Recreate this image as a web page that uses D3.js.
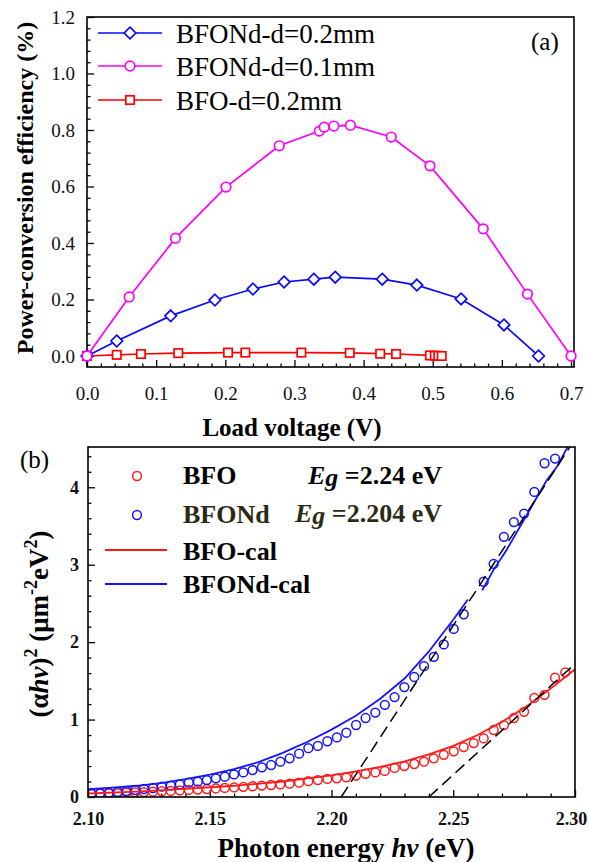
<!DOCTYPE html>
<html><head><meta charset="utf-8">
<script src="https://cdn.jsdelivr.net/npm/d3@7"></script>
<style>
body{margin:0;background:#fff}
svg{display:block;font-family:"Liberation Serif","Times New Roman",serif}
svg text{font-family:"Liberation Serif","Times New Roman",serif}
</style>
</head><body>
<svg id="c" width="589" height="862"></svg>
<script>
// ---------- Panel (a): power-conversion efficiency vs load voltage ----------
const seriesNamesA = ["BFONd-d=0.2mm", "BFONd-d=0.1mm", "BFO-d=0.2mm"];
const seriesColorsA = ["#0a0aff", "#ff00ff", "#ff0000"];
const voltBFONd02 = [0, 0.043, 0.121, 0.185, 0.240, 0.285, 0.328, 0.359, 0.427, 0.477, 0.541, 0.603, 0.653];
const effBFONd02  = [0, 0.053, 0.142, 0.198, 0.237, 0.262, 0.272, 0.279, 0.272, 0.251, 0.202, 0.110, 0.0];
const voltBFONd01 = [0, 0.061, 0.128, 0.201, 0.278, 0.336, 0.343, 0.357, 0.381, 0.440, 0.496, 0.573, 0.637, 0.700];
const effBFONd01  = [0, 0.209, 0.417, 0.598, 0.744, 0.796, 0.810, 0.814, 0.817, 0.775, 0.673, 0.450, 0.219, 0.0];
const voltBFO02   = [0, 0.043, 0.078, 0.132, 0.204, 0.229, 0.310, 0.380, 0.424, 0.447, 0.496, 0.503, 0.508, 0.513];
const effBFO02    = [0, 0.004, 0.007, 0.010, 0.012, 0.012, 0.012, 0.011, 0.008, 0.007, 0.002, 0.001, 0.0005, 0.0];
const xTicksA = [0, 0.1, 0.2, 0.3, 0.4, 0.5, 0.6, 0.7];
const xTickLabelsA = ["0.0", "0.1", "0.2", "0.3", "0.4", "0.5", "0.6", "0.7"];
const yTicksA = [0, 0.2, 0.4, 0.6, 0.8, 1.0, 1.2];
const yTickLabelsA = ["0.0", "0.2", "0.4", "0.6", "0.8", "1.0", "1.2"];

// ---------- Panel (b): Tauc plot ----------
const energy = [2.1014, 2.1050, 2.1086, 2.1122, 2.1158, 2.1194, 2.1230, 2.1267, 2.1303, 2.1340,
  2.1377, 2.1414, 2.1451, 2.1488, 2.1525, 2.1562, 2.1600, 2.1638, 2.1676, 2.1714,
  2.1752, 2.1790, 2.1828, 2.1867, 2.1905, 2.1944, 2.1983, 2.2022, 2.2061, 2.2101,
  2.2140, 2.2180, 2.2219, 2.2259, 2.2299, 2.2340, 2.2380, 2.2420, 2.2461, 2.2502,
  2.2543, 2.2584, 2.2625, 2.2666, 2.2708, 2.2749, 2.2791, 2.2833, 2.2875, 2.2918, 2.2960];
const bfoMeas = [0.038, 0.043, 0.047, 0.051, 0.055, 0.059, 0.064, 0.069, 0.074, 0.079,
  0.085, 0.091, 0.097, 0.103, 0.110, 0.117, 0.124, 0.131, 0.139, 0.147,
  0.155, 0.163, 0.172, 0.185, 0.205, 0.219, 0.234, 0.241, 0.254, 0.277,
  0.300, 0.318, 0.337, 0.376, 0.400, 0.426, 0.456, 0.500, 0.545, 0.590,
  0.645, 0.697, 0.757, 0.865, 0.929, 1.020, 1.100, 1.280, 1.320, 1.540, 1.610];
const bfondMeas = [0.047, 0.050, 0.056, 0.065, 0.077, 0.090, 0.103, 0.116, 0.133, 0.146,
  0.163, 0.185, 0.198, 0.219, 0.241, 0.262, 0.292, 0.318, 0.348, 0.383,
  0.413, 0.456, 0.499, 0.560, 0.630, 0.660, 0.720, 0.770, 0.830, 0.930,
  1.020, 1.090, 1.190, 1.290, 1.420, 1.550, 1.690, 1.810, 1.970, 2.170,
  2.360, null, 2.780, 3.010, 3.360, 3.550, 3.660, 3.940, 4.310, 4.370, null];
const bfoCalE = [2.100, 2.120, 2.140, 2.160, 2.180, 2.190, 2.200, 2.210, 2.220, 2.230, 2.240, 2.250, 2.260, 2.270, 2.280, 2.290, 2.300];
const bfoCalV = [0.045, 0.070, 0.105, 0.145, 0.200, 0.240, 0.280, 0.330, 0.390, 0.460, 0.550, 0.660, 0.800, 0.970, 1.170, 1.400, 1.650];
const bfondCal1E = [2.100, 2.110, 2.120, 2.130, 2.140, 2.150, 2.160, 2.170, 2.180, 2.185, 2.190, 2.200, 2.210, 2.220, 2.230, 2.240, 2.250, 2.256];
const bfondCal1V = [0.100, 0.120, 0.145, 0.180, 0.230, 0.290, 0.360, 0.450, 0.570, 0.640, 0.710, 0.870, 1.050, 1.270, 1.530, 1.880, 2.290, 2.550];
const bfondCal2E = [2.2619, 2.2665, 2.2719, 2.2774, 2.2829, 2.2884, 2.2925, 2.2973, 2.2990];
const bfondCal2V = [2.670, 2.930, 3.190, 3.490, 3.790, 4.090, 4.260, 4.540, 4.640];
const tangentBFO = [[2.240, 0], [2.300, 1.72]];
const tangentBFONd = [[2.204, 0], [2.300, 4.62]];
const xTicksB = [2.10, 2.15, 2.20, 2.25, 2.30];
const xTickLabelsB = ["2.10", "2.15", "2.20", "2.25", "2.30"];
const yTicksB = [0, 1, 2, 3, 4];
const yTickLabelsB = ["0", "1", "2", "3", "4"];

const FONT = "'Liberation Serif','Times New Roman',serif";
const svg = d3.select("#c");

// ===== Panel (a) =====
const xA = d3.scaleLinear().domain([0, 0.7043]).range([87, 574]);
const yA = d3.scaleLinear().domain([-0.039, 1.2]).range([367, 17]);

const gA = svg.append("g");
const xMinorA = d3.range(0, 0.7001, 0.02).filter(v => Math.abs(v * 10 - Math.round(v * 10)) > 1e-6);
const yMinorA = d3.range(0, 1.2001, 0.04).filter(v => Math.abs(v * 5 - Math.round(v * 5)) > 1e-6);

gA.append("g").attr("transform", `translate(0,${yA.range()[0]})`)
  .call(d3.axisBottom(xA).tickValues(xMinorA).tickSize(-3.5).tickFormat(""));
gA.append("g").attr("transform", `translate(0,${yA.range()[0]})`)
  .call(d3.axisBottom(xA).tickValues(xTicksA).tickSize(-7).tickPadding(20)
    .tickFormat((d, i) => xTickLabelsA[i]));
gA.append("g").attr("transform", `translate(${xA.range()[0]},0)`)
  .call(d3.axisLeft(yA).tickValues(yMinorA).tickSize(-3.5).tickFormat(""));
gA.append("g").attr("transform", `translate(${xA.range()[0]},0)`)
  .call(d3.axisLeft(yA).tickValues(yTicksA).tickSize(-7).tickPadding(12)
    .tickFormat((d, i) => yTickLabelsA[i]));
gA.selectAll(".domain").remove();
gA.selectAll(".tick line").attr("stroke", "#000").attr("stroke-width", 1.3);
gA.selectAll(".tick text").attr("font-size", 19).style("font-family", FONT).attr("fill", "#111");

gA.append("rect").attr("x", xA.range()[0]).attr("y", yA.range()[1])
  .attr("width", xA.range()[1] - xA.range()[0]).attr("height", yA.range()[0] - yA.range()[1])
  .attr("fill", "none").attr("stroke", "#000").attr("stroke-width", 1.6);

function drawMarker(g, type, cx, cy, color) {
  if (type === "diamond") {
    const s = 5.8;
    g.append("path").attr("d", `M${cx},${cy - s}L${cx + s},${cy}L${cx},${cy + s}L${cx - s},${cy}Z`)
      .attr("fill", "#fff").attr("stroke", color).attr("stroke-width", 1.7);
  } else if (type === "circle") {
    g.append("circle").attr("cx", cx).attr("cy", cy).attr("r", 4.8)
      .attr("fill", "#fff").attr("stroke", color).attr("stroke-width", 1.7);
  } else {
    const s = 4.2;
    g.append("rect").attr("x", cx - s).attr("y", cy - s).attr("width", 2 * s).attr("height", 2 * s)
      .attr("fill", "#fff").attr("stroke", color).attr("stroke-width", 1.7);
  }
}

const dataA = [
  { x: voltBFONd02, y: effBFONd02, type: "diamond" },
  { x: voltBFONd01, y: effBFONd01, type: "circle" },
  { x: voltBFO02, y: effBFO02, type: "square" }
];
const lineA = d3.line().x(d => xA(d[0])).y(d => yA(d[1]));
[2, 0, 1].forEach(k => {
  const s = dataA[k];
  const pts = s.x.map((v, i) => [v, s.y[i]]);
  const g = gA.append("g");
  g.append("path").attr("d", lineA(pts)).attr("fill", "none")
    .attr("stroke", seriesColorsA[k]).attr("stroke-width", 1.7);
  pts.forEach(p => drawMarker(g, s.type, xA(p[0]), yA(p[1]), seriesColorsA[k]));
});

// legend (a)
const legYA = [33, 66, 100];
seriesNamesA.forEach((name, k) => {
  const g = gA.append("g");
  g.append("line").attr("x1", 98).attr("x2", 162).attr("y1", legYA[k]).attr("y2", legYA[k])
    .attr("stroke", seriesColorsA[k]).attr("stroke-width", 1.7);
  drawMarker(g, dataA[k].type, 130, legYA[k], seriesColorsA[k]);
  g.append("text").attr("x", 176).attr("y", legYA[k] + 10).attr("font-size", 27)
    .style("font-family", FONT).text(name);
});
gA.append("text").attr("x", 531).attr("y", 50).attr("font-size", 25).style("font-family", FONT).text("(a)");

// axis titles (a)
gA.append("text").attr("x", 292).attr("y", 436).attr("text-anchor", "middle").style("font-family", FONT)
  .attr("font-size", 25).attr("font-weight", "bold").text("Load voltage (V)");
gA.append("text").attr("transform", "translate(33,188) rotate(-90)").attr("text-anchor", "middle")
  .style("font-family", FONT).attr("font-size", 24).attr("font-weight", "bold").text("Power-conversion efficiency (%)");

// ===== Panel (b) =====
const xB = d3.scaleLinear().domain([2.10, 2.30]).range([88, 575]);
const yB = d3.scaleLinear().domain([0, 4.52]).range([797, 447]);
const gB = svg.append("g");

const xMinorB = d3.range(2.10, 2.3001, 0.01).filter(v => Math.abs(v * 20 - Math.round(v * 20)) > 1e-6);
const yMinorB = d3.range(0, 4.52, 0.2).filter(v => Math.abs(v - Math.round(v)) > 1e-6);

gB.append("g").attr("transform", `translate(0,${yB.range()[0]})`)
  .call(d3.axisBottom(xB).tickValues(xMinorB).tickSize(-3.5).tickFormat(""));
const xAxB = gB.append("g").attr("transform", `translate(0,${yB.range()[0]})`)
  .call(d3.axisBottom(xB).tickValues(xTicksB).tickSize(-7).tickPadding(15)
    .tickFormat((d, i) => xTickLabelsB[i]));
gB.append("g").attr("transform", `translate(${xB.range()[0]},0)`)
  .call(d3.axisLeft(yB).tickValues(yMinorB).tickSize(-3.5).tickFormat(""));
gB.append("g").attr("transform", `translate(${xB.range()[0]},0)`)
  .call(d3.axisLeft(yB).tickValues(yTicksB).tickSize(-7).tickPadding(9)
    .tickFormat((d, i) => yTickLabelsB[i]));
gB.selectAll(".domain").remove();
gB.selectAll(".tick line").attr("stroke", "#000").attr("stroke-width", 1.3);
gB.selectAll(".tick text").attr("font-size", 18).attr("font-weight", "bold")
  .style("font-family", FONT).attr("fill", "#111");
// keep the last x label inside the picture
xAxB.selectAll(".tick text").filter((d, i) => i === xTicksB.length - 1).attr("dx", -4);

svg.append("defs").append("clipPath").attr("id", "clipB").append("rect")
  .attr("x", 88).attr("y", 447).attr("width", 487).attr("height", 350);

const plotB = gB.append("g").attr("clip-path", "url(#clipB)");
const lineB = d3.line().defined(d => d[1] !== null).x(d => xB(d[0])).y(d => yB(d[1]));
const cRed = "#ff1a1a", cBlue = "#1414ff";

energy.forEach((e, i) => {
  if (bfoMeas[i] !== null)
    plotB.append("circle").attr("cx", xB(e)).attr("cy", yB(bfoMeas[i])).attr("r", 4.4)
      .attr("fill", "none").attr("stroke", cRed).attr("stroke-width", 1.5);
});
energy.forEach((e, i) => {
  if (bfondMeas[i] !== null)
    plotB.append("circle").attr("cx", xB(e)).attr("cy", yB(bfondMeas[i])).attr("r", 4.4)
      .attr("fill", "none").attr("stroke", cBlue).attr("stroke-width", 1.5);
});
plotB.append("path").attr("d", lineB(bfoCalE.map((e, i) => [e, bfoCalV[i]])))
  .attr("fill", "none").attr("stroke", cRed).attr("stroke-width", 1.8);
plotB.append("path").attr("d", lineB(bfondCal1E.map((e, i) => [e, bfondCal1V[i]])))
  .attr("fill", "none").attr("stroke", cBlue).attr("stroke-width", 1.8);
plotB.append("path").attr("d", lineB(bfondCal2E.map((e, i) => [e, bfondCal2V[i]])))
  .attr("fill", "none").attr("stroke", cBlue).attr("stroke-width", 1.8);
[tangentBFO, tangentBFONd].forEach(t => {
  plotB.append("path").attr("d", lineB(t)).attr("fill", "none").attr("stroke", "#000")
    .attr("stroke-width", 1.5).attr("stroke-dasharray", "12,6");
});

gB.append("rect").attr("x", 88).attr("y", 447).attr("width", 487).attr("height", 350)
  .attr("fill", "none").attr("stroke", "#000").attr("stroke-width", 1.6);

// legend (b)
const legB = gB.append("g").attr("font-weight", "bold").attr("font-size", 26).style("font-family", FONT);
legB.append("circle").attr("cx", 137).attr("cy", 476).attr("r", 4.4).attr("fill", "none").attr("stroke", cRed).attr("stroke-width", 1.5);
legB.append("circle").attr("cx", 137).attr("cy", 515).attr("r", 4.4).attr("fill", "none").attr("stroke", cBlue).attr("stroke-width", 1.5);
legB.append("line").attr("x1", 105).attr("x2", 167).attr("y1", 550).attr("y2", 550).attr("stroke", cRed).attr("stroke-width", 1.8);
legB.append("line").attr("x1", 105).attr("x2", 167).attr("y1", 584).attr("y2", 584).attr("stroke", cBlue).attr("stroke-width", 1.8);
legB.append("text").attr("x", 183).attr("y", 484).text("BFO");
legB.append("text").attr("x", 183).attr("y", 523).style("fill", "#2b2a12").text("BFONd");
legB.append("text").attr("x", 183).attr("y", 560).text("BFO-cal");
legB.append("text").attr("x", 183).attr("y", 593).text("BFONd-cal");
const eg1 = legB.append("text").attr("x", 442).attr("y", 484).attr("text-anchor", "end");
eg1.append("tspan").attr("font-style", "italic").text("E");
eg1.append("tspan").attr("font-style", "italic").attr("dy", 2).text("g");
eg1.append("tspan").attr("dy", -2).text(" =2.24 eV");
const eg2 = legB.append("text").attr("x", 442).attr("y", 522).attr("text-anchor", "end").style("fill", "#2b2a12");
eg2.append("tspan").attr("font-style", "italic").text("E");
eg2.append("tspan").attr("font-style", "italic").attr("dy", 2).text("g");
eg2.append("tspan").attr("dy", -2).text(" =2.204 eV");

gB.append("text").attr("x", 20).attr("y", 468).attr("font-size", 25).style("font-family", FONT).text("(b)");

// axis titles (b)
const xt = gB.append("text").attr("x", 346).attr("y", 857).attr("text-anchor", "middle")
  .style("font-family", FONT).attr("font-size", 27).attr("font-weight", "bold");
xt.append("tspan").text("Photon energy ");
xt.append("tspan").attr("font-style", "italic").text("hν");
xt.append("tspan").text(" (eV)");

const yt = gB.append("text").attr("transform", "translate(48,624) rotate(-90)").attr("text-anchor", "middle")
  .style("font-family", FONT).attr("font-size", 27).attr("font-weight", "bold");
yt.append("tspan").text("(α");
yt.append("tspan").attr("font-style", "italic").text("hν");
yt.append("tspan").text(")");
yt.append("tspan").attr("font-size", 18).attr("dy", -11).text("2");
yt.append("tspan").attr("dy", 11).text(" (μm");
yt.append("tspan").attr("font-size", 18).attr("dy", -11).text("-2");
yt.append("tspan").attr("dy", 11).text("eV");
yt.append("tspan").attr("font-size", 18).attr("dy", -11).text("2");
yt.append("tspan").attr("dy", 11).text(")");
</script>
</body></html>
